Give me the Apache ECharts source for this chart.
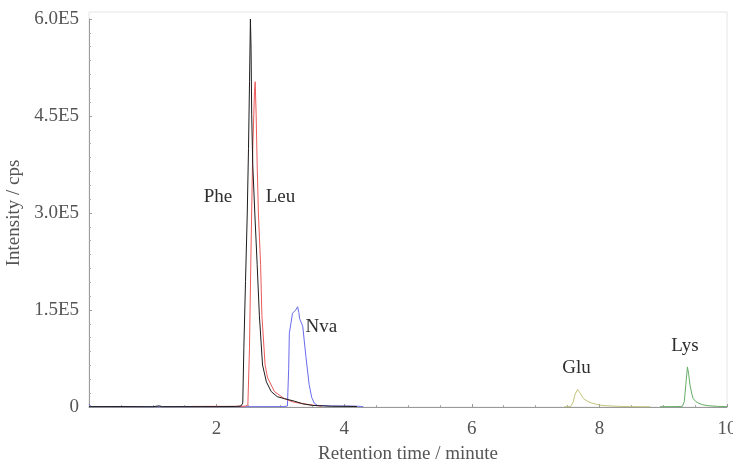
<!DOCTYPE html>
<html>
<head>
<meta charset="utf-8">
<script src="https://cdn.jsdelivr.net/npm/echarts@6/dist/echarts.min.js"></script>
<style>
html,body{margin:0;padding:0;background:#fff;overflow:hidden;}
#chart{width:733px;height:465px;}
</style>
</head>
<body>
<div id="chart"></div>
<script>
// ---- data (retention time in minutes, intensity in cps) ----
const pheData = [
  [0, 500], [0.5, 700], [1.0, 400], [1.1, 1800], [1.15, 500], [1.5, 600], [2.0, 600],
  [2.3, 800], [2.38, 1500], [2.41, 6000], [2.427, 90000], [2.453, 194000], [2.48, 297000],
  [2.50, 400000], [2.516, 503000], [2.53, 600000], [2.54, 555000], [2.55, 452000],
  [2.567, 374000], [2.60, 297000], [2.636, 220000], [2.67, 142000], [2.72, 65000],
  [2.78, 39000], [2.855, 24000], [2.95, 16000], [3.06, 13000], [3.22, 9000], [3.35, 5000],
  [3.5, 2500], [3.8, 1200], [4.2, 800]
];
const leuData = [
  [1.6, 800], [1.9, 1000], [2.2, 1000], [2.45, 1200], [2.49, 3000], [2.515, 90000],
  [2.54, 246000], [2.567, 400000], [2.594, 488000], [2.605, 503000], [2.62, 452000],
  [2.636, 374000], [2.656, 297000], [2.69, 220000], [2.71, 142000], [2.76, 65000],
  [2.80, 45000], [2.906, 24000], [3.06, 13000], [3.19, 8000], [3.35, 5000], [3.5, 3000],
  [3.65, 1200]
];
const nvaData = [
  [0, 4500], [0.03, 800], [0.5, 400], [1.5, 400], [2.5, 500], [3.05, 600], [3.11, 1500],
  [3.13, 60000], [3.14, 114000], [3.19, 145000], [3.24, 150000], [3.27, 155000],
  [3.29, 146000], [3.30, 137000], [3.32, 140000], [3.35, 125000], [3.40, 78000],
  [3.45, 35000], [3.49, 15000], [3.53, 6000], [3.58, 2500], [3.8, 1500], [4.05, 1500],
  [4.25, 1000], [4.3, 300]
];
const gluData = [
  [7.45, 300], [7.55, 800], [7.59, 8000], [7.62, 20000], [7.66, 27000], [7.70, 21000],
  [7.75, 13000], [7.82, 8500], [7.88, 6000], [8.0, 3000], [8.1, 2000], [8.3, 1000],
  [8.5, 600], [8.8, 300]
];
const lysData = [
  [8.95, 500], [9.2, 600], [9.30, 1000], [9.33, 8000], [9.355, 35000], [9.38, 62000],
  [9.40, 50000], [9.42, 34000], [9.45, 20000], [9.47, 13000], [9.51, 8500], [9.55, 6000],
  [9.62, 3500], [9.70, 2000], [9.85, 1000], [10, 600]
];
const seriesNames = ['Phe', 'Leu', 'Nva', 'Glu', 'Lys'];
const seriesColors = ['#1c1c1c', '#ec5a5a', '#6a6aec', '#c2c47a', '#63ad66'];
const seriesZ = [6, 5, 4, 3, 3];
// label anchors (data coordinates) for the peak names
const peakLabelX = [2.02, 3.0, 3.64, 7.64, 9.34];
const peakLabelY = [325000, 325000, 123700, 60000, 94000];
const yTicks = [0, 150000, 300000, 450000, 600000];

const serif = 'Liberation Serif';
const chart = echarts.init(document.getElementById('chart'), null, {renderer: 'canvas'});
const allData = [pheData, leuData, nvaData, gluData, lysData];

const series = allData.map((d, i) => ({
  name: seriesNames[i],
  type: 'line',
  data: d,
  showSymbol: false,
  symbol: 'none',
  smooth: false,
  animation: false,
  z: seriesZ[i],
  lineStyle: {color: seriesColors[i], width: 1},
  itemStyle: {color: seriesColors[i]},
  markPoint: {
    symbol: 'rect',
    symbolSize: 1,
    itemStyle: {color: 'rgba(0,0,0,0)'},
    label: {
      show: true, position: 'inside', formatter: seriesNames[i],
      color: '#2e2e2e', fontSize: 19, fontFamily: serif
    },
    data: [{coord: [peakLabelX[i], peakLabelY[i]]}]
  }
}));

chart.setOption({
  animation: false,
  backgroundColor: '#fff',
  grid: {left: 89, right: 6, top: 19, bottom: 58, containLabel: false, outerBoundsMode: 'none'},
  graphic: [{
    type: 'rect', z: -1, silent: true,
    shape: {x: 89, y: 12, width: 638, height: 395},
    style: {fill: 'none', stroke: '#e6e6e6', lineWidth: 1}
  }],
  xAxis: {
    type: 'value', min: 0, max: 10, interval: 2,
    name: 'Retention time / minute', nameLocation: 'middle', nameGap: 38,
    nameTextStyle: {fontFamily: serif, fontSize: 19, color: '#555'},
    axisLine: {show: true, lineStyle: {color: '#9a9a9a', width: 1}},
    axisTick: {show: true, inside: true, length: 3, lineStyle: {color: '#9a9a9a'}},
    minorTick: {show: true, splitNumber: 4, length: 2, lineStyle: {color: '#aaaaaa'}},
    splitLine: {show: false},
    axisLabel: {
      fontFamily: serif, fontSize: 19, color: '#555', margin: 13,
      hideOverlap: false,
      formatter: v => (v === 0 ? '' : String(v))
    }
  },
  yAxis: {
    type: 'value', min: 0, max: 600000, interval: 150000,
    name: 'Intensity / cps', nameLocation: 'middle', nameGap: 64,
    nameTextStyle: {fontFamily: serif, fontSize: 19, color: '#555'},
    axisLine: {show: true, lineStyle: {color: '#9a9a9a', width: 1}},
    axisTick: {show: true, inside: true, length: 3, lineStyle: {color: '#9a9a9a'}},
    minorTick: {show: true, splitNumber: 7, length: 2, lineStyle: {color: '#aaaaaa'}},
    splitLine: {show: false},
    axisLabel: {
      fontFamily: serif, fontSize: 19, color: '#555', margin: 10,
      formatter: v => (yTicks.indexOf(v) < 0 ? '' : (v === 0 ? '0' : (v / 1e5).toFixed(1) + 'E5'))
    }
  },
  series: series
});
</script>
</body>
</html>
